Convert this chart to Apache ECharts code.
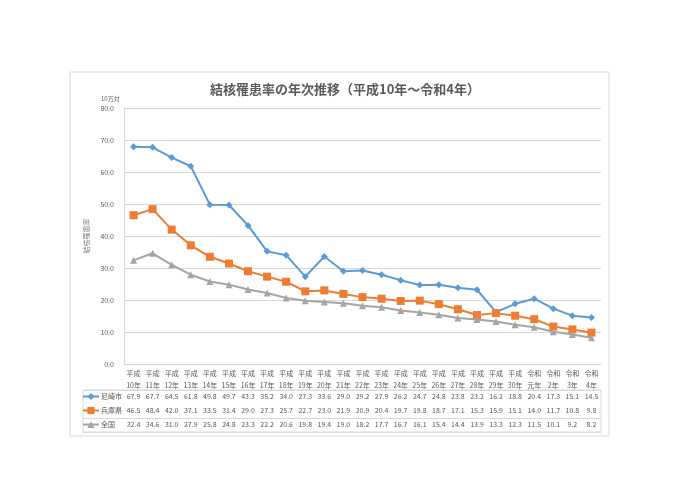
<!DOCTYPE html>
<html>
<head>
<meta charset="utf-8">
<script src="https://cdn.jsdelivr.net/npm/echarts@6/dist/echarts.min.js"></script>
<style>
  html, body { margin: 0; padding: 0; background: #fff; }
  #main { width: 690px; height: 488px; }
</style>
</head>
<body>
<div id="main"></div>
<script>
// 年次（平成10年～令和4年）
const years = [
    '平成\n10年', '平成\n11年', '平成\n12年', '平成\n13年', '平成\n14年',
    '平成\n15年', '平成\n16年', '平成\n17年', '平成\n18年', '平成\n19年',
    '平成\n20年', '平成\n21年', '平成\n22年', '平成\n23年', '平成\n24年',
    '平成\n25年', '平成\n26年', '平成\n27年', '平成\n28年', '平成\n29年',
    '平成\n30年', '令和\n元年', '令和\n2年', '令和\n3年', '令和\n4年'
];
const seriesNames = ['尼崎市', '兵庫県', '全国'];

// 結核罹患率（人口10万対）
const amagasaki = [67.9, 67.7, 64.5, 61.8, 49.8, 49.7, 43.3, 35.2, 34.0, 27.3, 33.6, 29.0, 29.2,
    27.9, 26.2, 24.7, 24.8, 23.8, 23.2, 16.2, 18.8, 20.4, 17.3, 15.1, 14.5];
const hyogo = [46.5, 48.4, 42.0, 37.1, 33.5, 31.4, 29.0, 27.3, 25.7, 22.7, 23.0, 21.9, 20.9,
    20.4, 19.7, 19.8, 18.7, 17.1, 15.3, 15.9, 15.1, 14.0, 11.7, 10.8, 9.8];
const zenkoku = [32.4, 34.6, 31.0, 27.9, 25.8, 24.8, 23.3, 22.2, 20.6, 19.8, 19.4, 19.0, 18.2,
    17.7, 16.7, 16.1, 15.4, 14.4, 13.9, 13.3, 12.3, 11.5, 10.1, 9.2, 8.2];

const yTicks = [0, 80, 10];

const seriesData = [amagasaki, hyogo, zenkoku];
const colors = ['#5B9BD5', '#ED7D31', '#A5A5A5'];
const symbols = ['diamond', 'rect', 'triangle'];
const symbolSizes = [7, 8, 7];

const FONT = '"Noto Sans CJK JP", "Noto Sans", sans-serif';
const GRID_COLOR = '#d9d9d9';
const TEXT_COLOR = '#595959';

const chart = echarts.init(document.getElementById('main'));

// データテーブルの各行（x軸を下にずらして表示）
let tableAxes = [];
seriesData.forEach(function (arr, k) {
    tableAxes.push({
        type: 'category',
        gridIndex: 0,
        position: 'bottom',
        offset: 26 + 14 * k,
        data: years,
        axisLine: { show: false },
        axisTick: { show: false },
        splitLine: { show: false },
        axisLabel: {
            interval: 0,
            margin: 3,
            fontSize: 7,
            fontFamily: FONT,
            color: TEXT_COLOR,
            formatter: function (v, i) { return arr[i].toFixed(1); }
        }
    });
});

chart.setOption({
    animation: false,
    color: colors,
    textStyle: { fontFamily: FONT },
    title: [
        {
            text: '結核罹患率の年次推移（平成10年～令和4年）',
            left: 'center',
            top: 78,
            textStyle: { fontSize: 13, fontWeight: 'bold', color: TEXT_COLOR, fontFamily: FONT }
        },
        {
            text: '10万対',
            left: 96,
            top: 91,
            textStyle: { fontSize: 6, fontWeight: 'normal', color: TEXT_COLOR, fontFamily: FONT }
        }
    ],
    legend: {
        orient: 'vertical',
        left: 82,
        top: 392,
        padding: 0,
        itemGap: 5,
        itemWidth: 16,
        itemHeight: 9,
        textStyle: { fontSize: 7, lineHeight: 9, color: TEXT_COLOR, padding: [0, 0, 0, -3] },
        data: seriesNames
    },
    graphic: [
        {
            type: 'rect',
            shape: { x: 70, y: 72, width: 539, height: 364 },
            style: { fill: 'none', stroke: GRID_COLOR, lineWidth: 1 },
            silent: true
        }
    ],
    grid: [
        { left: 124, right: 89, top: 108, bottom: 124 },
        { left: 83, right: 89, top: 390, height: 42, show: true, borderColor: GRID_COLOR, borderWidth: 1 }
    ],
    xAxis: [
        {
            type: 'category',
            gridIndex: 0,
            data: years,
            boundaryGap: true,
            axisLine: { lineStyle: { color: GRID_COLOR } },
            axisTick: { interval: 0, length: 68, lineStyle: { color: GRID_COLOR } },
            axisLabel: {
                interval: 0,
                margin: 3,
                fontSize: 7,
                lineHeight: 12,
                fontFamily: FONT,
                color: TEXT_COLOR
            }
        }
    ].concat(tableAxes).concat([
        {
            type: 'value',
            gridIndex: 1,
            min: 0,
            max: 1,
            show: false
        }
    ]),
    yAxis: [
        {
            type: 'value',
            gridIndex: 0,
            min: yTicks[0],
            max: yTicks[1],
            interval: yTicks[2],
            name: '結核罹患率',
            nameLocation: 'middle',
            nameGap: 33,
            nameTextStyle: { fontSize: 7, color: '#7f7f7f', fontFamily: FONT },
            axisLine: { show: true, lineStyle: { color: GRID_COLOR } },
            axisTick: { show: false },
            splitLine: { lineStyle: { color: GRID_COLOR } },
            axisLabel: {
                fontSize: 7,
                margin: 10,
                fontFamily: FONT,
                color: TEXT_COLOR,
                formatter: function (v) { return v.toFixed(1); }
            }
        },
        {
            type: 'category',
            gridIndex: 1,
            inverse: true,
            data: seriesNames,
            axisLine: { show: false },
            axisTick: { show: false },
            axisLabel: { show: false },
            splitLine: { show: true, lineStyle: { color: GRID_COLOR } }
        }
    ],
    series: seriesNames.map(function (name, k) {
        return {
            name: name,
            type: 'line',
            xAxisIndex: 0,
            yAxisIndex: 0,
            data: seriesData[k],
            symbol: symbols[k],
            symbolSize: symbolSizes[k],
            lineStyle: { width: 2, color: colors[k] },
            itemStyle: { color: colors[k] }
        };
    })
});
</script>
</body>
</html>
